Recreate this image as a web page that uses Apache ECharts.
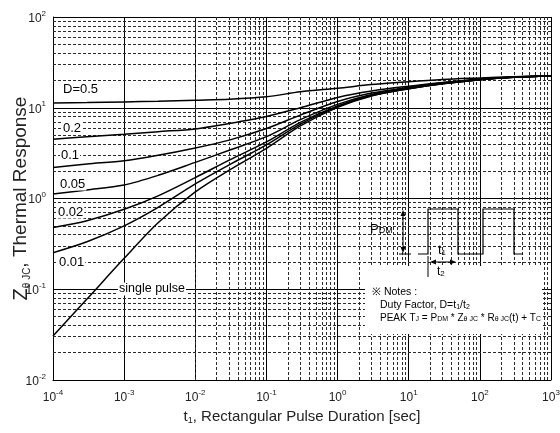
<!DOCTYPE html>
<html><head><meta charset="utf-8">
<script src="https://cdn.jsdelivr.net/npm/echarts@6/dist/echarts.min.js"></script>
<style>html,body{margin:0;padding:0;background:#fff}#c{width:560px;height:433px}</style>
</head><body><div id="c"></div>
<script>
// ---- data ----
const times   = [1e-4, 3e-4, 1e-3, 3e-3, 1e-2, 3e-2, 1e-1, 3e-1, 1, 3, 10, 30, 100, 300, 1000];
const d050    = [11.3, 11.4, 11.6, 11.8, 12.1, 12.4, 13.2, 15.0, 16.4, 18.0, 19.4, 20.5, 21.3, 22.0, 22.5];
const d020    = [4.5, 4.8, 5.1, 5.45, 5.85, 6.7, 8.0, 10.0, 13.0, 15.3, 17.3, 19.0, 20.8, 21.8, 22.4];
const d010    = [2.2, 2.4, 2.6, 2.99, 3.6, 4.4, 5.9, 8.3, 11.7, 14.5, 16.8, 18.8, 20.6, 21.8, 22.4];
const d005    = [1.12, 1.24, 1.41, 1.80, 2.5, 3.4, 4.8, 7.4, 10.9, 14.0, 16.5, 18.6, 20.5, 21.7, 22.4];
const d002    = [0.48, 0.57, 0.76, 1.07, 1.7, 2.65, 4.2, 6.9, 10.5, 13.7, 16.3, 18.5, 20.4, 21.7, 22.4];
const d001    = [0.253, 0.334, 0.50, 0.80, 1.45, 2.35, 3.9, 6.6, 10.3, 13.6, 16.2, 18.4, 20.4, 21.7, 22.4];
const single  = [0.0306, 0.078, 0.219, 0.54, 1.18, 2.05, 3.57, 6.3, 10.1, 13.5, 16.2, 18.4, 20.4, 21.7, 22.4];
const seriesNames = ['D=0.5', '0.2', '0.1', '0.05', '0.02', '0.01', 'single pulse'];
const xTickExponents = [-4, -3, -2, -1, 0, 1, 2, 3];
const yTickExponents = [-2, -1, 0, 1, 2];
const minorMultipliers = [2, 3, 4, 5, 6, 7, 8, 9];

const FONT = '"Liberation Sans", Arial, Helvetica, sans-serif';
const allSeries = [d050, d020, d010, d005, d002, d001, single];

function minorValues(exps) {
  const out = [];
  for (let i = 0; i < exps.length - 1; i++) {
    const base = Math.pow(10, exps[i]);
    minorMultipliers.forEach(m => out.push(m * base));
  }
  return out;
}
const xMinor = minorValues(xTickExponents);
const yMinor = minorValues(yTickExponents);

function powLabel(v) {
  const e = Math.round(Math.log10(v));
  return '{b|10}{e|' + e + '}';
}
const labelRich = {
  b: {fontSize: 12, fontFamily: FONT, color: '#222', lineHeight: 15, verticalAlign: 'bottom'},
  e: {fontSize: 8, fontFamily: FONT, color: '#222', lineHeight: 8, verticalAlign: 'top'}
};

const chart = echarts.init(document.getElementById('c'), null, {renderer: 'canvas'});

const curveSeries = allSeries.map((arr, i) => ({
  name: seriesNames[i],
  type: 'line',
  data: times.map((t, k) => [t, arr[k]]),
  showSymbol: false,
  smooth: 0.3,
  lineStyle: {color: '#000', width: 1.5},
  z: 5,
  silent: true
}));

const gridSeries = {
  type: 'line',
  data: [[1e-4, 1e-2]],
  showSymbol: false,
  lineStyle: {opacity: 0},
  silent: true,
  z: 1,
  markLine: {
    silent: true,
    symbol: ['none', 'none'],
    label: {show: false},
    animation: false,
    lineStyle: {color: '#2a2a2a', type: [3, 2], width: 1},
    data: xMinor.map(v => ({xAxis: v})).concat(yMinor.map(v => ({yAxis: v})))
  }
};

function sub(t) { return '{s|' + t + '}'; }
const noteRich = {
  s: {fontSize: 7, fontFamily: FONT, fill: '#000', lineHeight: 6, verticalAlign: 'bottom'}
};
function txt(x, y, text, size, extra) {
  return {
    type: 'text', z: 20,
    style: Object.assign({
      x: x, y: y, text: text, fill: '#000',
      font: size + 'px ' + FONT,
      verticalAlign: 'middle', align: 'left'
    }, extra || {})
  };
}
const curveLabelStyle = {backgroundColor: '#fff', padding: [0, 1]};

const graphics = [
  // curve labels
  txt(62, 89, 'D=0.5', 13, curveLabelStyle),
  txt(62, 128, '0.2', 13, curveLabelStyle),
  txt(60, 155, '0.1', 13, curveLabelStyle),
  txt(59, 184, '0.05', 13, curveLabelStyle),
  txt(57, 212, '0.02', 13, curveLabelStyle),
  txt(58, 262, '0.01', 13, curveLabelStyle),
  txt(118, 289, 'single pulse', 12.5, curveLabelStyle),
  // notes box
  {type: 'rect', z: 15, shape: {x: 365, y: 266, width: 177, height: 68}, style: {fill: '#fff'}},
  txt(372, 292, '\u203B Notes :', 10.5),
  txt(380, 305, 'Duty Factor, D=t' + sub('1') + '/t' + sub('2'), 10.5, {rich: noteRich}),
  txt(380, 318, 'PEAK T' + sub('J') + ' = P' + sub('DM') + ' * Z' + sub('\u03B8 JC') + ' * R' + sub('\u03B8 JC') + '(t) + T' + sub('C'), 10, {rich: noteRich}),
  // pulse diagram
  {type: 'polyline', z: 20, shape: {points: [[418,254],[428,254],[428,209],[458,209],[458,254],[483,254],[483,209],[514,209],[514,254],[523,254]]},
   style: {stroke: '#000', lineWidth: 1.2, fill: null}},
  {type: 'line', z: 20, shape: {x1: 403, y1: 213, x2: 403, y2: 250}, style: {stroke: '#000', lineWidth: 1}},
  {type: 'polygon', z: 20, shape: {points: [[403,210],[400.5,216],[405.5,216]]}, style: {fill: '#000'}},
  {type: 'polygon', z: 20, shape: {points: [[403,253],[400.5,247],[405.5,247]]}, style: {fill: '#000'}},
  {type: 'line', z: 20, shape: {x1: 399, y1: 254, x2: 411, y2: 254}, style: {stroke: '#000', lineWidth: 1}},
  txt(370, 229, 'P' + sub('DM'), 13, {rich: {s: {fontSize: 9, fontFamily: FONT, fill: '#000', lineHeight: 7, verticalAlign: 'bottom'}}}),
  {type: 'line', z: 20, shape: {x1: 432, y1: 262, x2: 454, y2: 262}, style: {stroke: '#000', lineWidth: 1}},
  {type: 'polygon', z: 20, shape: {points: [[430,262],[436,259.5],[436,264.5]]}, style: {fill: '#000'}},
  {type: 'polygon', z: 20, shape: {points: [[456,262],[450,259.5],[450,264.5]]}, style: {fill: '#000'}},
  txt(438, 250, 't' + sub('1'), 13, {rich: {s: {fontSize: 8, fontFamily: FONT, fill: '#000', lineHeight: 6, verticalAlign: 'bottom'}}}),
  {type: 'line', z: 20, shape: {x1: 428, y1: 256, x2: 428, y2: 277}, style: {stroke: '#000', lineWidth: 1}},
  txt(437, 272, 't' + sub('2'), 12, {rich: {s: {fontSize: 8, fontFamily: FONT, fill: '#000', lineHeight: 6, verticalAlign: 'bottom'}}})
];

chart.setOption({
  animation: false,
  backgroundColor: '#fff',
  grid: {left: 53, right: 9, top: 17, bottom: 53, containLabel: false, outerBoundsMode: 'none'},
  xAxis: {
    type: 'log', logBase: 10, min: 1e-4, max: 1e3, splitNumber: 7,
    axisLine: {lineStyle: {color: '#000', width: 1}},
    axisTick: {show: true, inside: true, length: 4, lineStyle: {color: '#000'}},
    splitLine: {show: true, lineStyle: {color: '#000', width: 1, type: 'solid'}},
    axisLabel: {formatter: powLabel, rich: labelRich, margin: 9},
    name: '{t|t}{s|1}{t|, Rectangular Pulse Duration [sec]}',
    nameLocation: 'middle', nameGap: 26,
    nameTextStyle: {rich: {
      t: {fontSize: 15, fontFamily: FONT, color: '#222', lineHeight: 18},
      s: {fontSize: 9, fontFamily: FONT, color: '#222', lineHeight: 8, verticalAlign: 'bottom'}
    }}
  },
  yAxis: {
    type: 'log', logBase: 10, min: 1e-2, max: 1e2, splitNumber: 4,
    axisLine: {show: true, lineStyle: {color: '#000', width: 1}},
    axisTick: {show: true, inside: true, length: 4, lineStyle: {color: '#000'}},
    splitLine: {show: true, lineStyle: {color: '#000', width: 1, type: 'solid'}},
    axisLabel: {formatter: powLabel, rich: labelRich, margin: 7},
    name: '{z|Z}{s|\u03B8 JC}{t|, Thermal Response}',
    nameLocation: 'middle', nameGap: 21, nameRotate: 90, nameMoveOverlap: false,
    nameTextStyle: {rich: {
      z: {fontSize: 20, fontFamily: FONT, color: '#222', lineHeight: 22},
      t: {fontSize: 19, fontFamily: FONT, color: '#222', lineHeight: 22},
      s: {fontSize: 10, fontFamily: FONT, color: '#222', lineHeight: 9, verticalAlign: 'bottom'}
    }}
  },
  series: [gridSeries].concat(curveSeries),
  graphic: graphics
});
</script>
</body></html>
